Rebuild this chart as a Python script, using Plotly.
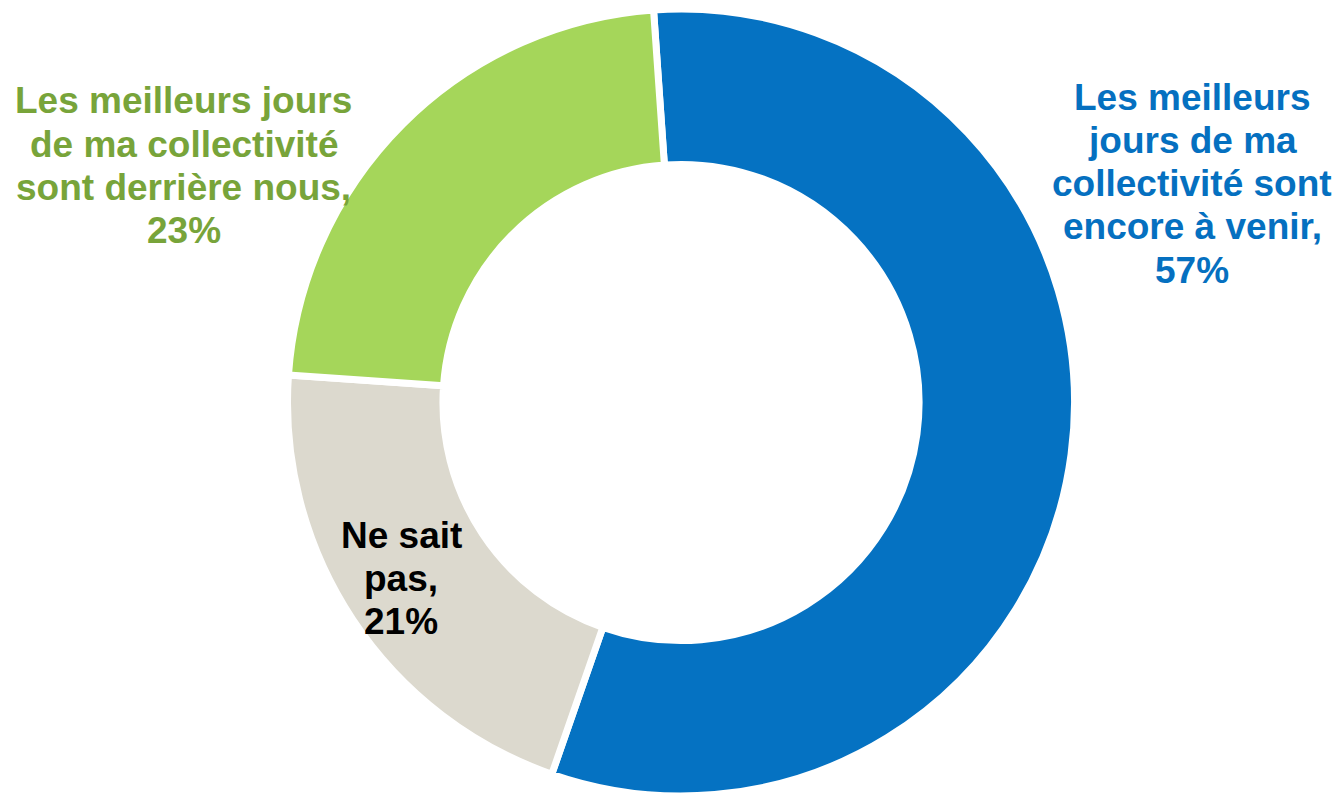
import plotly.graph_objects as go

labels = ["Les meilleurs jours de ma collectivité sont encore à venir",
          "Ne sait pas",
          "Les meilleurs jours de ma collectivité sont derrière nous"]
values = [57, 21, 23]
slice_colors = ["#0572C2", "#DCD9CE", "#A5D65A"]
label_lines = [["Les meilleurs", "jours de ma", "collectivité sont", "encore à venir,", "57%"],
               ["Ne sait", "pas,", "21%"],
               ["Les meilleurs jours", "de ma collectivité", "sont derrière nous,", "23%"]]
label_colors = ["#0570C0", "#000000", "#78A43A"]

W, H = 1337, 796
cx, cy, r = 681, 405, 396

fig = go.Figure(go.Pie(
    labels=labels,
    values=values,
    hole=0.605,
    sort=False,
    direction="clockwise",
    rotation=-4,
    marker=dict(colors=slice_colors, line=dict(color="white", width=7)),
    textinfo="none",
    hoverinfo="label+percent",
    showlegend=False,
    domain=dict(x=[(cx - r) / W, (cx + r) / W],
                y=[max(0, 1 - (cy + r) / H), min(1, 1 - (cy - r) / H)]),
))

# (center x, first-line y) in pixels of the reference
pos = [(1192, 97), (401, 535), (184, 101)]
line_gap = 43.3
for (x, y0), lines, c in zip(pos, label_lines, label_colors):
    for i, ln in enumerate(lines):
        y = y0 + i * line_gap
        fig.add_annotation(x=x / W, y=1 - y / H, xref="paper", yref="paper",
                           text="<b>" + ln + "</b>", showarrow=False,
                           xanchor="center", yanchor="middle", align="center",
                           font=dict(family="Liberation Sans, Arial, sans-serif", size=37, color=c))

fig.update_layout(width=W, height=H, margin=dict(l=0, r=0, t=0, b=0),
                  paper_bgcolor="white", plot_bgcolor="white")
fig.write_html("out.html", config={"displayModeBar": False},
               post_script="document.body.style.margin='0';document.body.style.overflow='hidden';")
